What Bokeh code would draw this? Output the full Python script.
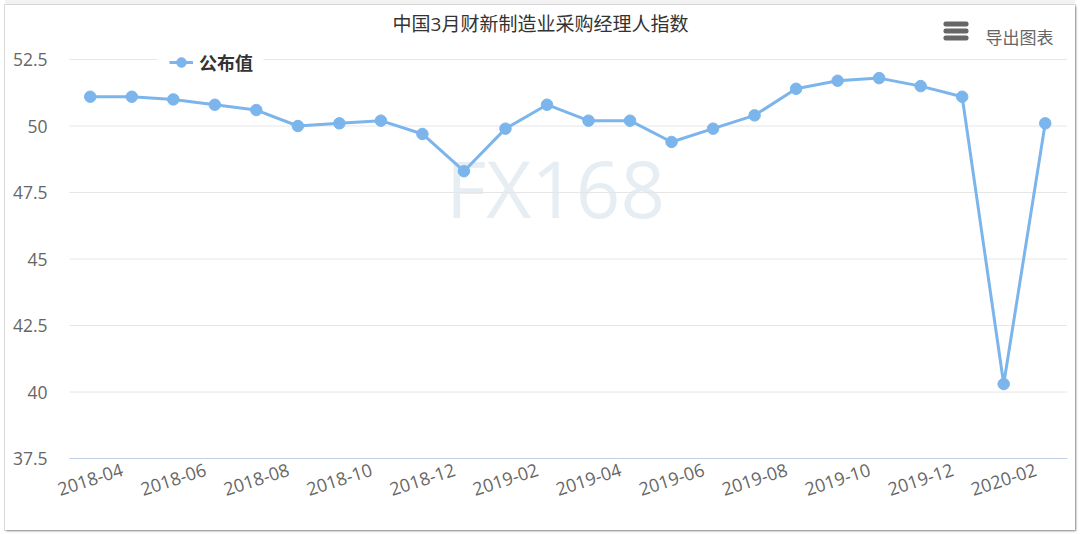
from bokeh.core.properties import value
from bokeh.embed import file_html
from bokeh.models import (BoxAnnotation, ColumnDataSource, FixedTicker, Label, LabelSet,
                          Legend, LegendItem, Range1d)
from bokeh.plotting import figure
from bokeh.resources import INLINE
import math

TITLE = '中国3月财新制造业采购经理人指数'
SERIES_NAME = '公布值'
EXPORT_TEXT = '导出图表'
WATERMARK = 'FX168'

months = ['2018-04', '2018-05', '2018-06', '2018-07', '2018-08', '2018-09',
          '2018-10', '2018-11', '2018-12', '2019-01', '2019-02', '2019-03',
          '2019-04', '2019-05', '2019-06', '2019-07', '2019-08', '2019-09',
          '2019-10', '2019-11', '2019-12', '2020-01', '2020-02', '2020-03']
pmi = [51.1, 51.1, 51.0, 50.8, 50.6, 50.0, 50.1, 50.2, 49.7, 48.3, 49.9, 50.8,
       50.2, 50.2, 49.4, 49.9, 50.4, 51.4, 51.7, 51.8, 51.5, 51.1, 40.3, 50.1]
y_ticks = [37.5, 40, 42.5, 45, 47.5, 50, 52.5]
y_tick_labels = ['37.5', '40', '42.5', '45', '47.5', '50', '52.5']

LINE_COLOR = '#7cb5ec'
TEXT_COLOR = '#666666'
FONT = 'Open Sans, Noto Sans CJK SC'

# annotations get clipped to the frame, so the frame fills the whole card and
# the ranges are widened past the real plot area
X_START, X_END = -0.5, 23.53
Y_START, Y_END = 37.5, 52.5
PX_PER_MONTH = 41.52
PX_PER_UNIT = 26.6
x_range = Range1d(X_START - 64 / PX_PER_MONTH, X_START + 1006 / PX_PER_MONTH)
y_range = Range1d(Y_START - 72 / PX_PER_UNIT, Y_END + 54 / PX_PER_UNIT)

x = list(range(len(months)))
source = ColumnDataSource(dict(x=x, y=pmi))

p = figure(width=1070, height=525, output_backend='svg', toolbar_location=None,
           x_range=x_range, y_range=y_range,
           min_border_left=0, min_border_right=0, min_border_top=0, min_border_bottom=0)
p.styles = {'margin': '5px',
            'box-shadow': '1px 1px 2px #8f8f8f, 0 0 0 1px #dddddd, 0 -5px 0 0 #f2f2f2'}
p.outline_line_color = None
p.grid.visible = False

p.segment(x0=X_START, x1=X_END, y0=y_ticks[1:], y1=y_ticks[1:], line_color='#e6e6e6', line_width=1)

p.yaxis.fixed_location = X_START
p.yaxis.ticker = FixedTicker(ticks=y_ticks)
p.yaxis.major_label_overrides = dict(zip(y_ticks, y_tick_labels))
p.yaxis.axis_line_color = None
p.yaxis.major_tick_line_color = None
p.yaxis.minor_tick_line_color = None
p.yaxis.major_tick_out = 0
p.yaxis.major_label_standoff = 22
p.yaxis.major_label_text_font = FONT
p.yaxis.major_label_text_font_size = '17.5px'
p.yaxis.major_label_text_color = TEXT_COLOR

p.xaxis.fixed_location = Y_START
p.xaxis.bounds = (X_START, X_END)
p.xaxis.ticker = FixedTicker(ticks=[])
p.xaxis.axis_line_color = '#c0d0e0'
p.xaxis.major_tick_line_color = None
p.xaxis.minor_tick_line_color = None

line = p.line('x', 'y', source=source, line_color=LINE_COLOR, line_width=3)
dots = p.scatter('x', 'y', source=source, size=11.5, fill_color=LINE_COLOR, line_color=LINE_COLOR)

# every second month gets a label, centred under its point
tick_source = ColumnDataSource(dict(x=x[::2], y=[Y_START] * len(x[::2]), text=months[::2]))
p.add_layout(LabelSet(x='x', y='y', text='text', source=tick_source, y_offset=-21,
                      angle=18 * math.pi / 180, text_align='center', text_baseline='middle',
                      text_font=value(FONT), text_font_size='18px', text_color=TEXT_COLOR))

p.add_layout(Label(x=550, y=343, x_units='screen', y_units='screen', text=WATERMARK,
                   text_font=FONT, text_font_size='78px', text_color='#e7eef3',
                   text_align='center', text_baseline='middle', level='underlay'))

p.add_layout(Label(x=535, y=507, x_units='screen', y_units='screen', text=TITLE,
                   text_font=FONT, text_font_size='19px', text_color='#333333',
                   text_align='center', text_baseline='middle'))
p.add_layout(Label(x=1014, y=493, x_units='screen', y_units='screen', text=EXPORT_TEXT,
                   text_font=FONT, text_font_size='17px', text_color=TEXT_COLOR,
                   text_align='center', text_baseline='middle'))

# menu icon
for top in (509, 502, 495):
    p.add_layout(BoxAnnotation(left=938, right=963, top=top, bottom=top - 5,
                               left_units='screen', right_units='screen',
                               top_units='screen', bottom_units='screen',
                               fill_color='#666666', fill_alpha=1, line_color=None,
                               border_radius=2))

# white gap in the top grid line around the legend
p.add_layout(BoxAnnotation(left=152, right=258, top=475, bottom=460,
                           left_units='screen', right_units='screen',
                           top_units='screen', bottom_units='screen',
                           fill_color='white', fill_alpha=1, line_color=None))

legend = Legend(items=[LegendItem(label=SERIES_NAME, renderers=[line, dots])],
                location=(164, 455), orientation='horizontal',
                background_fill_alpha=0,
                border_line_color=None, label_text_font=FONT, label_text_font_size='18px',
                label_text_font_style='bold', label_text_color='#333333',
                glyph_width=24, glyph_height=24, label_height=24, margin=0,
                label_standoff=6)
p.add_layout(legend)

open('out.html', 'w').write(file_html(p, INLINE))
